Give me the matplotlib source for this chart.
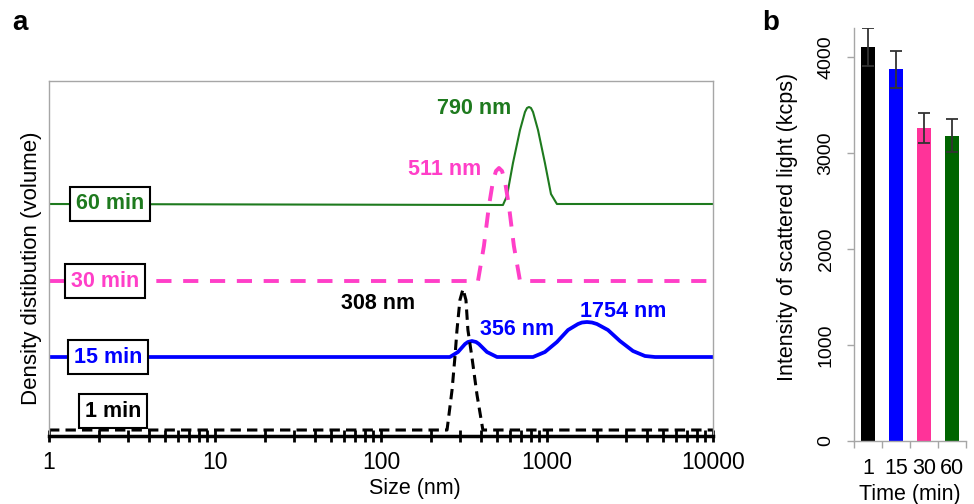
import matplotlib
matplotlib.use('Agg')
import matplotlib.pyplot as plt
from matplotlib.ticker import FixedLocator, NullFormatter, LogLocator

plt.rcParams['font.family'] = ['Liberation Sans', 'DejaVu Sans']

# ---- panel a: size distributions (arbitrary units) ----
size_1min = [1, 250, 268, 279, 287, 299, 312, 325, 334, 353, 379, 411, 10000]
dens_1min = [0, 0, 40, 73, 100, 130, 141, 130, 100, 73, 35, 0, 0]

size_15min = [1, 260, 291, 321, 334, 353, 374, 389, 435, 500,
              824, 972, 1148, 1339, 1538, 1625, 1741, 1867, 2000, 2330, 2752, 3297, 3894, 4477, 10000]
dens_15min = [0, 0, 5, 13, 15, 16, 15, 13, 5, 0,
              0, 5, 15, 27, 33, 34.5, 35, 34.5, 33, 27, 16, 6, 1, 0, 0]

size_30min = [1, 384, 417, 447, 473, 493, 514, 536, 558, 590, 632, 688, 10000]
dens_30min = [0, 0, 35, 75, 100, 110, 113, 110, 100, 75, 35, 0, 0]

size_60min = [1, 543, 574, 624, 688, 737, 758, 779, 801, 824, 883, 972, 1057, 1148, 10000]
dens_60min = [0, -1, 8, 41, 74, 92, 96, 97, 96, 92, 74, 41, 10, 0, 0]

offsets = [6, 79, 155, 232]   # vertical stacking of the curves
time_labels = ['1 min', '15 min', '30 min', '60 min']

# ---- panel b: scattered light intensity ----
times = ['1', '15', '30', '60']
intensity = [4100, 3870, 3260, 3180]
intensity_err = [200, 190, 160, 170]

c_black = 'black'
c_blue = '#0000FF'
c_pink = '#FF3FC8'
c_green = '#1E7A1E'
bar_colors = ['black', '#0000FF', '#FF3399', '#006400']

fig = plt.figure(figsize=(9.74, 5.04), dpi=100)

# ===================== panel a =====================
ax = fig.add_axes([0.0503, 0.1349, 0.6817, 0.7044])
ax.set_xscale('log')
ax.set_xlim(1, 10000)
ax.set_ylim(0, 355)

ax.plot(size_60min, [v + offsets[3] for v in dens_60min], color=c_green, lw=1.5)
ax.plot(size_30min, [v + offsets[2] for v in dens_30min], color=c_pink, lw=2.8,
        linestyle=(0, (3.9, 3.0)))
ax.plot(size_15min, [v + offsets[1] for v in dens_15min], color=c_blue, lw=2.7)
ax.plot(size_1min, [v + offsets[0] for v in dens_1min], color=c_black, lw=2.2,
        linestyle=(0, (3.4, 2.0)))

box = dict(boxstyle='square,pad=0.28', facecolor='white', edgecolor='black', lw=1.5)
lab_kw = dict(fontsize=15.5, fontweight='bold', ha='center', va='center', bbox=box)
ax.text(2.33, offsets[3], time_labels[3], color=c_green, **lab_kw)
ax.text(2.17, offsets[2], time_labels[2], color=c_pink, **lab_kw)
ax.text(2.27, offsets[1], time_labels[1], color=c_blue, **lab_kw)
ax.text(2.43, 25, time_labels[0], color=c_black, **lab_kw)

pk_kw = dict(fontsize=15.5, fontweight='bold', ha='center', va='center')
ax.text(363, 327, '790 nm', color=c_green, **pk_kw)
ax.text(243, 266, '511 nm', color=c_pink, **pk_kw)
ax.text(96, 133, '308 nm', color=c_black, **pk_kw)
ax.text(660, 107, '356 nm', color=c_blue, **pk_kw)
ax.text(2871, 125, '1754 nm', color=c_blue, **pk_kw)

for s in ['left', 'top', 'right']:
    ax.spines[s].set_color('#a6a6a6')
    ax.spines[s].set_linewidth(1.0)
ax.spines['bottom'].set_color('black')
ax.spines['bottom'].set_linewidth(2.5)

ax.xaxis.set_major_locator(FixedLocator([1, 10, 100, 1000, 10000]))
ax.set_xticklabels(['1', '10', '100', '1000', '10000'])
ax.xaxis.set_minor_locator(LogLocator(base=10, subs=range(2, 10)))
ax.xaxis.set_minor_formatter(NullFormatter())
ax.tick_params(axis='x', which='both', direction='inout', length=8, width=2,
               color='black', labelsize=16.5, pad=7)
ax.set_yticks([])
ax.set_xlabel('Size (nm)', fontsize=15.5)
ax.xaxis.set_label_coords(0.551, -0.118)
ax.set_ylabel('Density distibution (volume)', fontsize=16)
ax.yaxis.set_label_coords(-0.011, 0.473)

fig.text(0.013, 0.955, 'a', fontsize=20, fontweight='bold', va='center')

# ===================== panel b =====================
bx = fig.add_axes([0.8768, 0.125, 0.115, 0.8194])
pos = list(range(len(times)))
bx.bar(pos, intensity, width=0.5, color=bar_colors, yerr=intensity_err,
       error_kw=dict(ecolor='#333333', elinewidth=1.3, capsize=4, capthick=1.3))
bx.set_xlim(-0.5, 3.5)
bx.set_ylim(0, 4300)
for s in ['top', 'right']:
    bx.spines[s].set_visible(False)
for s in ['left', 'bottom']:
    bx.spines[s].set_color('#a6a6a6')
    bx.spines[s].set_linewidth(1.0)

bx.set_xticks(pos)
bx.set_xticklabels(times)
bx.set_xticks([p - 0.5 for p in pos] + [3.5], minor=True)
bx.tick_params(axis='x', which='major', length=0, labelsize=15.5, pad=12)
bx.tick_params(axis='x', which='minor', direction='out', length=5, width=1, color='#a6a6a6')
bx.set_yticks([0, 1000, 2000, 3000, 4000])
bx.tick_params(axis='y', direction='out', length=5, width=1, color='#a6a6a6',
               labelsize=14, pad=9)
for lab in bx.get_yticklabels():
    lab.set_rotation(90)
    lab.set_va('center')
bx.set_xlabel('Time (min)', fontsize=15.5, labelpad=4)
bx.set_ylabel('Intensity of scattered light (kcps)', fontsize=15.5)
bx.yaxis.set_label_coords(-0.50, 0.518)

fig.text(0.783, 0.955, 'b', fontsize=20, fontweight='bold', va='center')

fig.savefig('out.png', dpi=100)
